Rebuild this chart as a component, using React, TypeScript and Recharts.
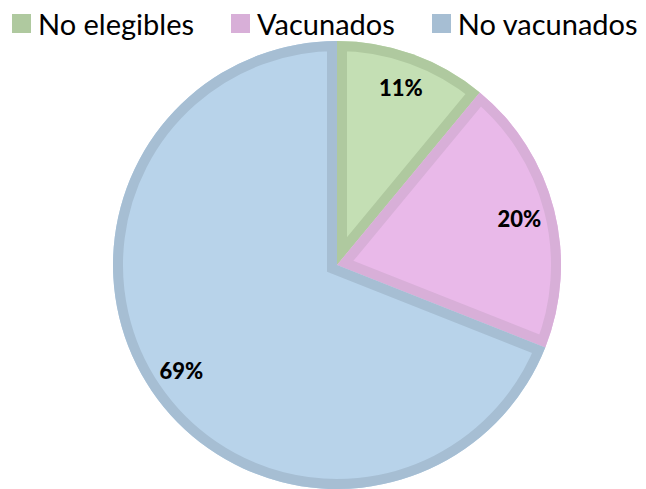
import { PieChart, Pie, Cell, Sector } from 'recharts';

const categories = ['No elegibles', 'Vacunados', 'No vacunados'];
const shares = [11, 20, 69];
const fills = ['#c4dfb4', '#e9b9e9', '#b8d3ea'];
const borders = ['#afc99f', '#d8afd8', '#a6bed3'];

const data = categories.map((name, i) => ({ name, value: shares[i] }));

const RADIAN = Math.PI / 180;

// draws the darker inner border of each slice plus its percentage label
const renderSlice = (props: any) => {
  const { cx, cy, innerRadius, outerRadius, startAngle, endAngle, midAngle, index, percent } = props;
  const id = `slice-clip-${index}`;
  const r = outerRadius * 0.84;
  const x = cx + r * Math.cos(-midAngle * RADIAN);
  const y = cy + r * Math.sin(-midAngle * RADIAN);
  return (
    <g>
      <defs>
        <clipPath id={id}>
          <Sector cx={cx} cy={cy} innerRadius={innerRadius} outerRadius={outerRadius} startAngle={startAngle} endAngle={endAngle} />
        </clipPath>
      </defs>
      <g clipPath={`url(#${id})`}>
        <Sector
          cx={cx}
          cy={cy}
          innerRadius={innerRadius}
          outerRadius={outerRadius}
          startAngle={startAngle}
          endAngle={endAngle}
          fill="none"
          stroke={borders[index]}
          strokeWidth={20}
        />
      </g>
      <text
        x={x}
        y={y}
        textAnchor="middle"
        dominantBaseline="central"
        fill="#000"
        fontFamily="Lato, sans-serif"
        fontWeight={900}
        fontSize={22}
      >
        {`${Math.round(percent * 100)}%`}
      </text>
    </g>
  );
};

export default function App() {
  return (
    <div style={{ position: 'absolute', left: 0, top: 0, width: 646, height: 489, background: '#fff' }}>
      <PieChart width={646} height={489} margin={{ top: 0, right: 0, bottom: 0, left: 0 }}>
        <Pie
          data={data}
          dataKey="value"
          nameKey="name"
          cx={337}
          cy={265}
          outerRadius={224}
          startAngle={90}
          endAngle={-270}
          stroke="none"
          label={renderSlice}
          labelLine={false}
          isAnimationActive={false}
        >
          {data.map((d, i) => (
            <Cell key={d.name} fill={fills[i]} />
          ))}
        </Pie>
      </PieChart>
      <div
        style={{
          position: 'absolute',
          left: 12,
          top: 6,
          display: 'flex',
          alignItems: 'center',
          gap: 37,
          fontFamily: 'Lato, sans-serif',
          fontSize: 29,
          color: '#000',
          whiteSpace: 'nowrap',
        }}
      >
        {categories.map((name, i) => (
          <div key={name} style={{ display: 'flex', alignItems: 'center', gap: 7 }}>
            <span style={{ width: 19, height: 19, background: borders[i], display: 'inline-block' }} />
            <span>{name}</span>
          </div>
        ))}
      </div>
    </div>
  );
}
